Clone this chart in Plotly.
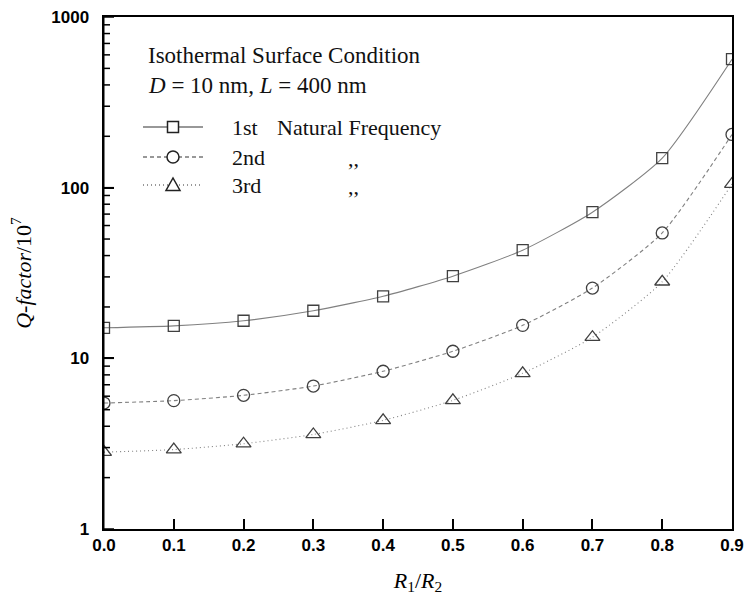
import plotly.graph_objects as go

x_ratio = [0.0, 0.1, 0.2, 0.3, 0.4, 0.5, 0.6, 0.7, 0.8, 0.9]
q_first = [15.1, 15.5, 16.6, 19.0, 23.1, 30.3, 43.0, 71.8, 149, 566]
q_second = [5.47, 5.65, 6.07, 6.88, 8.4, 11.0, 15.6, 25.8, 54.3, 205]
q_third = [2.82, 2.92, 3.16, 3.58, 4.33, 5.67, 8.17, 13.3, 28.1, 105]
x_ticks = [0.0, 0.1, 0.2, 0.3, 0.4, 0.5, 0.6, 0.7, 0.8, 0.9]
y_major = [1, 10, 100, 1000]
series_names = ["1st", "2nd", "3rd"]

y_minor = [m * d for d in [1, 10, 100] for m in range(2, 10)]

W, H = 746, 609
L, R, T, B = 104, 14, 17, 80
PW, PH = W - L - R, H - T - B

def px(xp):
    return (xp - L) / PW

def py(yp):
    return (H - B - yp) / PH

serif = "Liberation Serif"
sans = "Liberation Sans"
line_col = "#808080"
mk_col = "#404040"

styles = [
    dict(dash="solid", symbol="square-open", size=11),
    dict(dash="4px,3px", symbol="circle-open", size=12),
    dict(dash="1px,3px", symbol="triangle-up-open", size=13),
]

fig = go.Figure()
for name, ys, st in zip(series_names, [q_first, q_second, q_third], styles):
    fig.add_trace(go.Scatter(
        x=x_ratio, y=ys, mode="lines+markers", name=name,
        line=dict(color=line_col, width=1.1, dash=st["dash"], shape="spline", smoothing=0.6),
        marker=dict(symbol=st["symbol"], size=st["size"], color=mk_col, line=dict(width=1.3, color=mk_col)),
        showlegend=False,
    ))

shapes = []

# left axis spine and its inside ticks (drawn explicitly)
shapes.append(dict(type="rect", xref="paper", yref="paper", xsizemode="pixel",
                   xanchor=0, x0=-1.5, x1=0.5, y0=0, y1=1,
                   fillcolor="black", line=dict(width=0), layer="above"))
for vals, tlen in [(y_major, 10), (y_minor, 6)]:
    for v in vals:
        shapes.append(dict(type="line", xref="paper", yref="y", xsizemode="pixel",
                           xanchor=0, x0=0, x1=tlen, y0=v, y1=v,
                           line=dict(color="black", width=1.5), layer="above"))

# custom legend samples drawn as shapes
rows_y = [127, 157, 185]
leg_col = "#222222"
for st, ry in zip(styles, rows_y):
    shapes.append(dict(type="line", xref="paper", yref="paper",
                       x0=px(143), x1=px(203), y0=py(ry), y1=py(ry),
                       line=dict(color="#333333", width=1.1, dash=st["dash"])))
    base = dict(xref="paper", yref="paper", xsizemode="pixel", ysizemode="pixel",
                xanchor=px(173), yanchor=py(ry), fillcolor="white",
                line=dict(color=leg_col, width=1.5), layer="above")
    if st["symbol"].startswith("square"):
        shapes.append(dict(type="rect", x0=-5.5, x1=5.5, y0=-5.5, y1=5.5, **base))
    elif st["symbol"].startswith("circle"):
        shapes.append(dict(type="circle", x0=-6, x1=6, y0=-6, y1=6, **base))
    else:
        shapes.append(dict(type="path", path="M -7,-5.5 L 7,-5.5 L 0,7 Z", **base))

annotations = [
    dict(x=px(146), y=py(55), text="Isothermal Surface Condition", size=23),
    dict(x=px(146), y=py(85), text="<i>D</i> = 10 nm, <i>L</i> = 400 nm", size=23),
    dict(x=px(230), y=py(127), text="1st", size=22),
    dict(x=px(275), y=py(127), text="Natural Frequency", size=22),
    dict(x=px(230), y=py(157), text="2nd", size=22),
    dict(x=px(346), y=py(158), text=",,", size=22),
    dict(x=px(230), y=py(185), text="3rd", size=22),
    dict(x=px(346), y=py(186), text=",,", size=22),
]
for a in annotations:
    s = a.pop("size")
    a.update(xref="paper", yref="paper", xanchor="left", yanchor="middle",
             showarrow=False, font=dict(family=serif, size=s, color="#111111"))

fig.update_layout(
    width=W, height=H,
    margin=dict(l=L, r=R, t=T, b=B, autoexpand=False),
    paper_bgcolor="white", plot_bgcolor="white",
    annotations=annotations, shapes=shapes,
    xaxis=dict(
        range=[0, 0.9], tickvals=x_ticks, ticktext=[f"{v:.1f}" for v in x_ticks],
        ticks="inside", ticklen=10, tickwidth=1.5, tickcolor="black",
        showline=True, linecolor="black", linewidth=2, mirror=True,
        showgrid=False, zeroline=False, automargin=False,
        tickfont=dict(family=sans, size=17, color="black", weight="bold"),
        title=dict(text="<i>R</i><sub>1</sub>/<i>R</i><sub>2</sub>",
                   font=dict(family=serif, size=22, color="black"), standoff=18),
    ),
    yaxis=dict(
        type="log", range=[0, 3], side="left", anchor="x",
        tickmode="array", tickvals=y_major, ticktext=[str(v) + "  " for v in y_major],
        ticks="inside", ticklen=10, tickwidth=1.5, tickcolor="black",
        showline=True, linecolor="black", linewidth=2, mirror=True,
        showgrid=False, zeroline=False, automargin=False,
        tickfont=dict(family=sans, size=17, color="black", weight="bold"),
        title=dict(text="<i>Q-factor</i>/10<sup>7</sup>",
                   font=dict(family=serif, size=22, color="black"), standoff=14),
    ),
)

fig.write_html("out.html")
